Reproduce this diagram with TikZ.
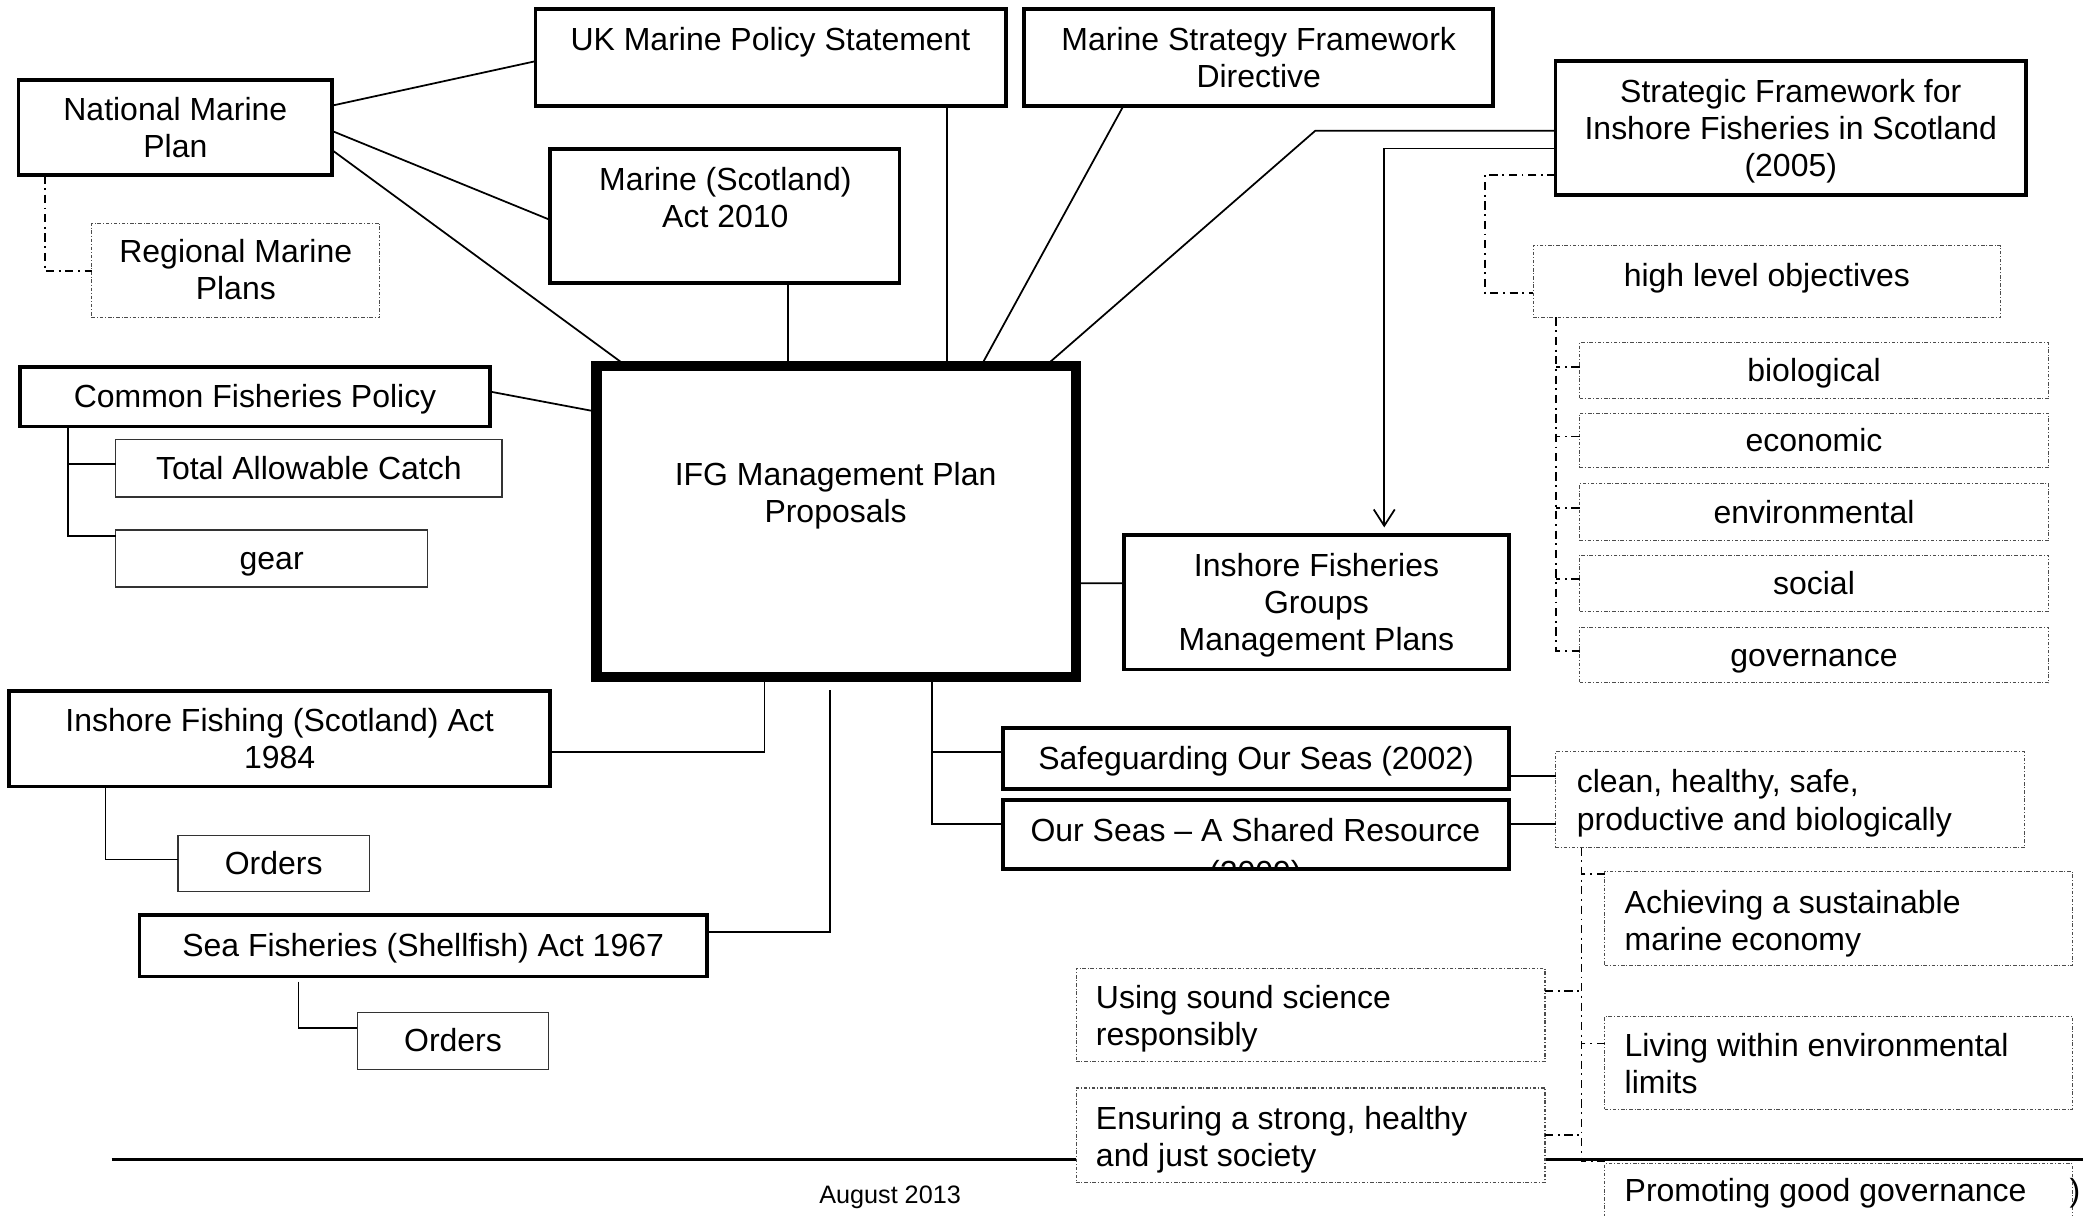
\documentclass[tikz,border=0pt]{standalone}
\usepackage{fontspec}
\setmainfont{Liberation Sans}
\usetikzlibrary{arrows.meta,calc}
\newcommand\mybox[7]{\node[#2, minimum width={(#5-#3)*0.02cm}, minimum height={(#6-#4)*0.02cm}] (#1) at ({(#3+#5)/2},{(#4+#6)/2}) {#7};}
\newcommand\mystr{\rule[-0.212em]{0pt}{1.117em}}
\begin{document}
\begin{tikzpicture}[x=0.02cm,y=-0.02cm,
  every node/.style={inner sep=0pt, outer sep=0pt, font=\fontsize{13.7}{15.9}\selectfont},
  thickbox/.style={draw=black, line width=1.6pt, fill=white, align=center},
  heavybox/.style={draw=black, line width=4.4pt, fill=white, align=center},
  thinbox/.style={draw=black!80, line width=0.6pt, fill=white, align=center},
  dotbox/.style={draw=black!70, line width=0.45pt, dash pattern=on 1.5pt off 0.8pt on 0.4pt off 0.8pt, fill=white, align=center},
  conn/.style={draw=black, line width=0.75pt},
  dd/.style={draw=black, line width=0.75pt, dash pattern=on 3.5pt off 2pt on 0.8pt off 2pt},
  txt/.style={align=center},
  ltxt/.style={align=left, anchor=west},
]
\clip (0,0) rectangle (1568,915);
\fill[white] (0,0) rectangle (1568,915);

% footer
\draw[line width=1.1pt] (84,873) -- (1568,873);
\node[font=\fontsize{10.8}{13}\selectfont] (foot) at (670,899) {\mystr August 2013};

% boxes
\mybox{nmp}{thickbox}{14}{60}{250}{132}{\mystr National Marine\\\mystr Plan}
\mybox{ukmps}{thickbox}{403}{7}{757}{80}{}
\node (ukmpst) at (580,30) {\mystr UK Marine Policy Statement};
\mybox{msfd}{thickbox}{771}{7}{1124}{80}{\mystr Marine Strategy Framework\\\mystr Directive}
\mybox{sfifs}{thickbox}{1171}{46}{1525}{147}{\mystr Strategic Framework for\\\mystr Inshore Fisheries in Scotland\\\mystr (2005)}
\mybox{ms}{thickbox}{414}{112}{677}{213}{}
\node[txt] (mst) at (546,149) {\mystr Marine (Scotland)\\\mystr Act 2010};
\mybox{rmp}{dotbox}{69}{168}{286}{239}{\mystr Regional Marine\\\mystr Plans}
\mybox{hlo}{dotbox}{1154}{185}{1506}{239}{}
\node (hlot) at (1330,207) {\mystr high level objectives};
\mybox{bio}{dotbox}{1189}{258}{1542}{300}{\mystr biological}
\mybox{eco}{dotbox}{1189}{311}{1542}{352}{\mystr economic}
\mybox{env}{dotbox}{1189}{364}{1542}{407}{\mystr environmental}
\mybox{soc}{dotbox}{1189}{418}{1542}{460}{\mystr social}
\mybox{gov}{dotbox}{1189}{472}{1542}{514}{\mystr governance}
\mybox{cfp}{thickbox}{15}{276}{369}{321}{\mystr Common Fisheries Policy}
\mybox{tac}{thinbox}{87}{331}{378}{374}{\mystr Total Allowable Catch}
\mybox{gear}{thinbox}{87}{399}{322}{442}{\mystr gear}
\mybox{ifg}{heavybox}{449}{275.5}{810}{509.5}{}
\node[txt] (ifgt) at (629,371) {\mystr IFG Management Plan\\\mystr Proposals};
\mybox{ifgmp}{thickbox}{846}{403}{1136}{504}{\mystr Inshore Fisheries\\\mystr Groups\\\mystr Management Plans}
\mybox{ifsa}{thickbox}{7}{520}{414}{592}{\mystr Inshore Fishing (Scotland) Act\\\mystr 1984}
\mybox{ord1}{thinbox}{134}{629}{278}{671}{\mystr Orders}
\mybox{sfsa}{thickbox}{105}{689}{532}{735}{\mystr Sea Fisheries (Shellfish) Act 1967}
\mybox{ord2}{thinbox}{269}{762}{413}{805}{\mystr Orders}
\mybox{sg}{thickbox}{755}{548}{1136}{594}{\mystr Safeguarding Our Seas (2002)}
\mybox{os}{thickbox}{755}{602}{1136}{654}{}
\node (ost) at (945,625) {\mystr Our Seas – A Shared Resource};
\begin{scope}
  \clip ($(os.south west)+(2,-2)$) rectangle ($(os.north east)+(-2,2)$);
  \node (ost2) at (945,657) {\mystr (2009)};
\end{scope}
\mybox{clean}{dotbox}{1171}{566}{1524}{638}{}
\node[ltxt] (cleant) at (1187,602.5) {\mystr clean, healthy, safe,\\\mystr productive and biologically};
\mybox{ach}{dotbox}{1208}{656}{1560}{727}{}
\node[ltxt] (acht) at (1223,693) {\mystr Achieving a sustainable\\\mystr marine economy};
\mybox{usci}{dotbox}{810}{729}{1163}{799}{}
\node[ltxt] (uscit) at (825,765) {\mystr Using sound science\\\mystr responsibly};
\mybox{liv}{dotbox}{1208}{765}{1560}{835}{}
\node[ltxt] (livt) at (1223,801) {\mystr Living within environmental\\\mystr limits};
\mybox{ens}{dotbox}{810}{819}{1163}{890}{}
\node[ltxt] (enst) at (825,856) {\mystr Ensuring a strong, healthy\\\mystr and just society};
\mybox{prom}{dotbox}{1208}{876}{1560}{940}{}
\node[ltxt] (promt) at (1223,896) {\mystr Promoting good governance};
\node (paren) at (1562,896) {\mystr )};

% connectors top
\draw[conn] ($(nmp.east)+(0,-16.5)$) -- ($(ukmps.west)+(0,2.6)$);
\draw[conn] ($(nmp.east)+(0,2.6)$) -- ($(ms.west)+(0,3)$);
\draw[conn] ($(nmp.east)+(0,17)$) -- ($(ifg.north)+(-158,0)$);
\path ($(ms.south)+(47.5,0)$) coordinate (msb);
\draw[conn] (msb) -- (msb |- ifg.north);
\path ($(ukmps.south)+(133,0)$) coordinate (ukb);
\draw[conn] (ukb) -- (ukb |- ifg.north);
\draw[conn] ($(msfd.south)+(-102,0)$) -- ($(ifg.north)+(109,0)$);
\draw[conn] ($(sfifs.west)+(0,2)$) -- ++(-181,0) -- ($(ifg.north)+(157.5,0)$);
\draw[conn, -{Straight Barb[length=7pt,width=9pt]}] ($(sfifs.west)+(0,15.2)$) -| ($(ifgmp.north)+(51,-6)$);
\draw[dd] ($(sfifs.west)+(0,35.2)$) -- ++(-53,0) |- ($(hlo.west)+(0,8.8)$);
\draw[dd] ($(nmp.south west)+(19.6,0)$) |- ($(rmp.west)+(0,0.5)$);

% high level objectives tree
\path ($(hlo.south west)+(17.5,0)$) coordinate (hv);
\draw[dd] (hv) |- ($(gov.west)+(0,-3)$);
\foreach \n in {bio,eco,env,soc} {\draw[dd] ($(\n.west)+(0,-3)$) -- ++(-17.5,0);}

% left side
\draw[conn] ($(cfp.east)+(0,-3.7)$) -- ($(ifg.west)+(0,-82.6)$);
\path ($(cfp.south west)+(36,0)$) coordinate (cv);
\draw[conn] (cv) |- ($(gear.west)+(0,-17)$);
\draw[conn] ($(tac.west)+(0,-3)$) -- ++(-36,0);
\draw[conn] ($(ifg.east)+(0,46.5)$) -- ($(ifgmp.west)+(0,-14.5)$);
\draw[conn] ($(ifg.south)+(-54,0)$) |- ($(ifsa.east)+(0,10)$);
\draw[conn] ($(ifg.south)+(-5,10)$) |- ($(sfsa.east)+(0,-10.6)$);
\path ($(ifg.south)+(72,0)$) coordinate (iv);
\draw[conn] (iv) |- ($(os.west)+(0,-8)$);
\draw[conn] ($(sg.west)+(0,-5)$) -- ++(-53.5,0);
\draw[conn] ($(ifsa.south west)+(72.5,0)$) |- ($(ord1.west)+(0,-3)$);
\draw[conn] ($(sfsa.south west)+(119.7,4)$) |- ($(ord2.west)+(0,-9.5)$);

% right lower
\path ($(sg.east)+(0,13)$) coordinate (sge);
\draw[conn] (sge) -- (sge -| clean.west);
\path ($(os.east)+(0,-8)$) coordinate (ose);
\draw[conn] (ose) -- (ose -| clean.west);
\path ($(clean.south west)+(19.5,0)$) coordinate (kv);
\draw[dd] (kv) |- ($(prom.north west)+(0,-2)$);
\draw[dd] ($(ach.north west)+(0,2)$) -- ++(-17.5,0);
\draw[dd] ($(usci.east)+(0,-18.3)$) -- ++(27.5,0);
\draw[dd] ($(liv.west)+(0,-14.5)$) -- ++(-17.5,0);
\draw[dd] (ens.east) -- ++(27.5,0);
\end{tikzpicture}
\end{document}
